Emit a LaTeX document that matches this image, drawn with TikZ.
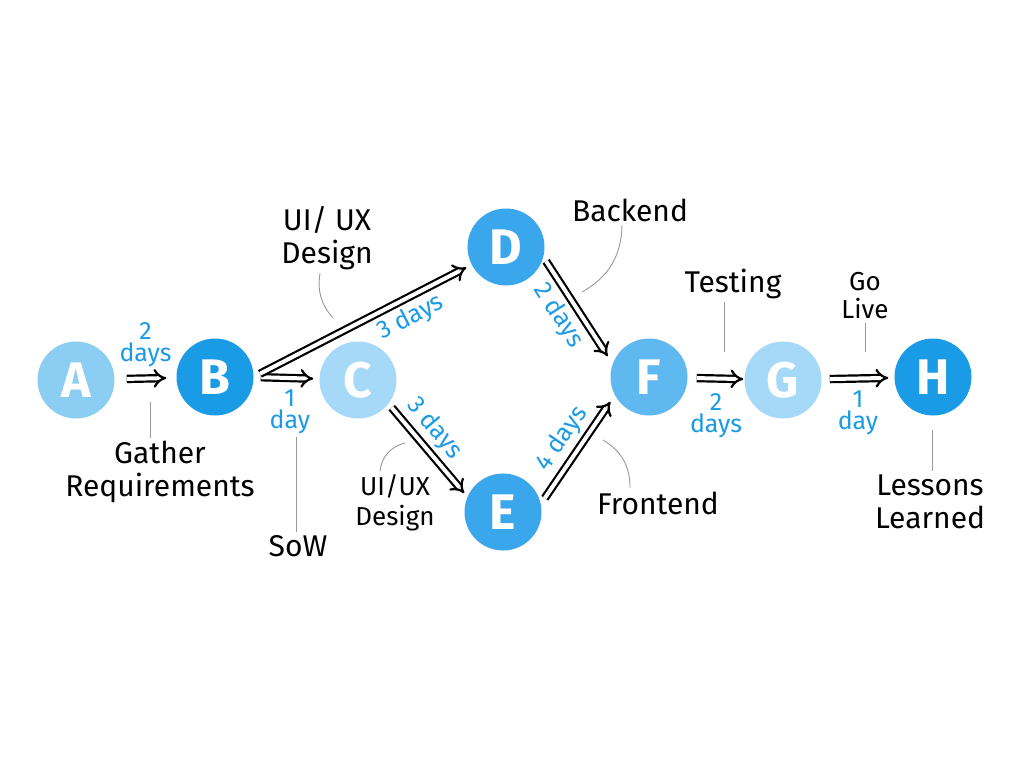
\documentclass[tikz,border=0pt]{standalone}
\usepackage{fontspec}
\setmainfont{Fira Sans}
\usetikzlibrary{arrows.meta}
\definecolor{taskpale}{HTML}{8CCDF4}
\definecolor{taskdeep}{HTML}{1A9BE6}
\definecolor{taskmid}{HTML}{3AA6EC}
\definecolor{tasksoft}{HTML}{5FB8F0}
\definecolor{tasklight}{HTML}{A6D8F7}
\definecolor{durblue}{HTML}{1B9AE6}
\tikzset{
  task/.style={circle, minimum size=77pt, inner sep=0pt, text=white,
    font=\bfseries\fontsize{50}{50}\selectfont},
  dur/.style={text=durblue, font=\fontsize{25}{22}\selectfont, align=center, inner sep=1pt},
  note/.style={font=\fontsize{30}{33}\selectfont, align=center},
  leader/.style={draw=black!40, line width=0.9pt},
  durarrow/.style={line width=2.2pt, double distance=4pt, double=white,
    -{Implies[scale=1.2]}},
}
\begin{document}
\begin{tikzpicture}[x=1pt, y=-1pt]
  \useasboundingbox (0,0) rectangle (1024,768);
  % tasks
  \node[task, fill=taskpale] (A) at (76,380) {A};
  \node[task, fill=taskdeep] (B) at (215,377) {B};
  \node[task, fill=tasklight] (C) at (358,380) {C};
  \node[task, fill=taskmid] (D) at (506,247) {D};
  \node[task, fill=taskmid] (E) at (503,512) {E};
  \node[task, fill=tasksoft] (F) at (649,377) {F};
  \node[task, fill=tasklight] (G) at (783,380) {G};
  \node[task, fill=taskdeep] (H) at (933,377) {H};

  % durations
  \draw[durarrow, shorten <=12pt, shorten >=10pt] (A) -- node[dur, above=10pt] {2\\days} (B);
  \draw[durarrow, shorten <=7pt, shorten >=6pt] (B.east) -- node[dur, below=10pt, pos=.55] {1\\day} (C);
  \draw[durarrow, shorten <=7pt, shorten >=6pt] (B.east) -- node[dur, sloped, below=5pt, pos=.68] {3 days} (D);
  \draw[durarrow, shorten <=5pt, shorten >=9pt] (D.-15) -- node[dur, sloped, below=5pt, pos=.45] {2 days} (F.160);
  \draw[durarrow, shorten <=5pt, shorten >=5pt] (C.-38) -- node[dur, sloped, above=5pt, pos=.4] {3 days} (E.157);
  \draw[durarrow, shorten <=7pt, shorten >=8pt] (E.12) -- node[dur, sloped, above=5pt, pos=.5] {4 days} (F.-152);
  \draw[durarrow, shorten <=9pt, shorten >=1pt] (F) -- node[dur, below=13pt] {2\\days} (G);
  \draw[durarrow, shorten <=8pt, shorten >=6pt] (G) -- node[dur, below=10pt] {1\\day} (H);

  % notes
  \node[note] (gather) at (160,472) {Gather\\Requirements};
  \node[note] (sow) at (298,546) {SoW};
  \node[note] (uxtop) at (327,238) {UI/ UX\\Design};
  \node[note, font=\fontsize{26}{30}\selectfont] (uxbot) at (395,503) {UI/UX\\Design};
  \node[note] (backend) at (630,210) {Backend};
  \node[note] (frontend) at (658,503) {Frontend};
  \node[note] (testing) at (733,284) {Testing};
  \node[note, font=\fontsize{26}{28}\selectfont] (golive) at (865,296) {Go\\Live};
  \node[note] (lessons) at (930,502) {Lessons\\Learned};

  % leader lines
  \coordinate (lAB) at (150,402);
  \coordinate (lBC) at (296,437);
  \coordinate (lBD) at (333,318);
  \coordinate (lCE) at (405,443);
  \coordinate (lDF) at (582,292);
  \coordinate (lEF) at (603,440);
  \coordinate (lFG) at (724,352);
  \coordinate (lGH) at (865,352);
  \coordinate (lH) at (932,430);
  \draw[leader] (lAB) -- (lAB |- gather.north);
  \draw[leader] (lBC) -- (lBC |- sow.north);
  \draw[leader] (lBD) to[bend left=25] ([xshift=-7pt]uxtop.south);
  \draw[leader] (lCE) to[bend right=35] ([xshift=-15pt]uxbot.north);
  \draw[leader] (lDF) to[bend right=30] ([xshift=-8pt]backend.south);
  \draw[leader] (lEF) to[bend left=30] ([xshift=-28pt]frontend.north);
  \draw[leader] (lFG) -- (lFG |- testing.south);
  \draw[leader] (lGH) -- (lGH |- golive.south);
  \draw[leader] (lH) -- (lH |- lessons.north);
\end{tikzpicture}
\end{document}
